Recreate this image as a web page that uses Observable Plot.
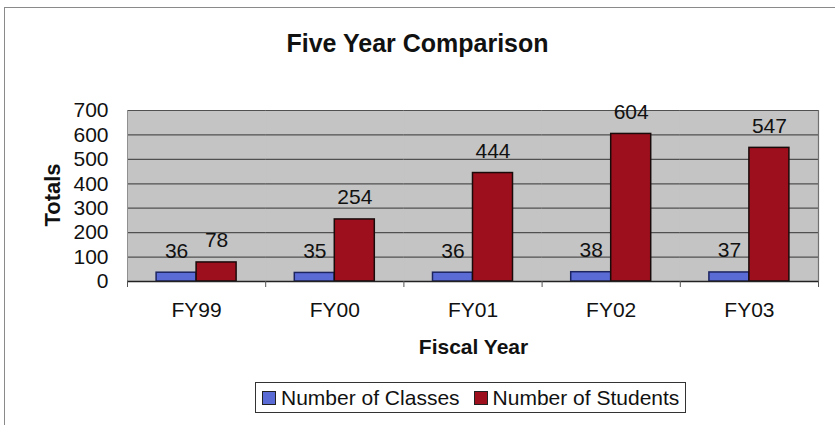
<!DOCTYPE html>
<html>
<head>
<meta charset="utf-8">
<script src="https://cdn.jsdelivr.net/npm/d3@7"></script>
<script src="https://cdn.jsdelivr.net/npm/@observablehq/plot@0.6"></script>
<style>
  html, body { margin: 0; padding: 0; background: #fff; }
  body { width: 835px; height: 425px; overflow: hidden; position: relative; font-family: "Liberation Sans", Arial, sans-serif; color: #111; }
  #border { position: absolute; left: 4px; top: 7px; width: 900px; height: 500px; border: 1.5px solid #8a8a8a; box-sizing: border-box; }
  #title { position: absolute; left: 0; width: 835px; top: 28px; text-align: center; font-size: 25px; font-weight: bold; line-height: 30px; }
  #chart { position: absolute; left: 0; top: 90px; }
  #ylabel { position: absolute; left: 53px; top: 195px; transform: translate(-50%, -50%) rotate(-90deg); font-size: 22px; font-weight: bold; white-space: nowrap; }
  #xlabel { position: absolute; left: 0; width: 947px; top: 335px; text-align: center; font-size: 21px; font-weight: bold; }
  #legend { position: absolute; left: 255px; top: 382px; width: 431px; height: 31px; border: 1px solid #333; box-sizing: border-box; display: flex; align-items: center; padding-left: 6px; font-size: 21px; white-space: nowrap; }
  .sw { display: inline-block; width: 12px; height: 12px; border: 1px solid #222; margin-right: 5px; }
  .item { display: flex; align-items: center; margin-right: 14px; }
</style>
</head>
<body>
<div id="border"></div>
<div id="title">Five Year Comparison</div>
<div id="chart"></div>
<div id="ylabel">Totals</div>
<div id="xlabel">Fiscal Year</div>
<div id="legend"></div>
<script>
const years = ["FY99", "FY00", "FY01", "FY02", "FY03"];
const seriesNames = ["Number of Classes", "Number of Students"];
const classes = [36, 35, 36, 38, 37];
const students = [78, 254, 444, 604, 547];
const yTicks = [0, 100, 200, 300, 400, 500, 600, 700];
const colors = ["#5b6bd6", "#9e0f1d"];
const strokes = ["#1c2560", "#1a0a0a"];

const data = years.flatMap((yr, i) => [
  {year: yr, series: seriesNames[0], value: classes[i]},
  {year: yr, series: seriesNames[1], value: students[i]}
]);

const W = 835, H = 275, ML = 127, MR = 17, MT = 20, MB = 84;
const halfStep = (W - ML - MR) / years.length / 2;

const chart = Plot.plot({
  width: W, height: H,
  marginLeft: ML, marginRight: MR, marginTop: MT, marginBottom: MB,
  style: {fontFamily: "'Liberation Sans', Arial, sans-serif", color: "#111", background: "transparent"},
  fx: {domain: years, padding: 0, round: false, label: null, axis: null},
  x: {domain: seriesNames, paddingInner: 0, paddingOuter: 0.7275, round: false, axis: null},
  y: {domain: [0, 700], label: null},
  color: {domain: seriesNames, range: colors},
  marks: [
    Plot.frame({fill: "#c4c4c4", stroke: "#c4c4c4", strokeWidth: 1}),
    Plot.gridY(yTicks, {stroke: "#505050", strokeOpacity: 1, strokeWidth: 1.2}),
    Plot.ruleX([years[years.length - 1]], {fx: d => d, x: null, dx: halfStep, y1: 0, y2: 700, stroke: "#707070", strokeWidth: 1.2}),
    Plot.ruleX([years[0]], {fx: d => d, x: null, dx: -halfStep, y1: 0, y2: 700, stroke: "#909090", strokeWidth: 1}),
    Plot.barY(data, {fx: "year", x: "series", y: "value", fill: "series",
      stroke: d => strokes[seriesNames.indexOf(d.series)], strokeWidth: 1.5}),
    Plot.text(data, {fx: "year", x: "series", y: "value", text: d => String(d.value),
      lineAnchor: "bottom", dy: -15, fontSize: 21, fill: "#111"}),
    Plot.ruleY([0], {stroke: "#222", strokeWidth: 1.5}),
    Plot.axisY(yTicks, {tickSize: 0, tickPadding: 19, fontSize: 21, label: null, fill: "#111"}),
    Plot.axisFx({anchor: "bottom", tickSize: 0, tickPadding: 21, fontSize: 21, label: null, fill: "#111"}),
    Plot.axisFx({anchor: "bottom", tickSize: 6, text: null, label: null, dx: halfStep, stroke: "#555"}),
    Plot.axisFx({anchor: "bottom", ticks: [years[0]], tickSize: 6, text: null, label: null, dx: -halfStep, stroke: "#555"})
  ]
});
document.getElementById("chart").appendChild(chart);

const legend = document.getElementById("legend");
seriesNames.forEach((name, i) => {
  const item = document.createElement("span");
  item.className = "item";
  const sw = document.createElement("span");
  sw.className = "sw";
  sw.style.background = colors[i];
  const label = document.createElement("span");
  label.textContent = name;
  item.appendChild(sw);
  item.appendChild(label);
  legend.appendChild(item);
});
</script>
</body>
</html>
